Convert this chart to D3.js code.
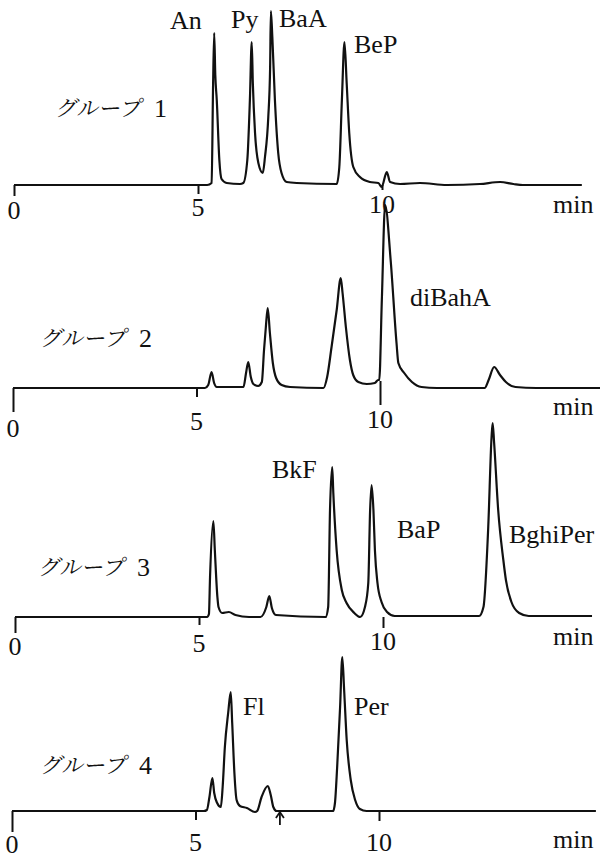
<!DOCTYPE html>
<html>
<head>
<meta charset="utf-8">
<script src="https://cdn.jsdelivr.net/npm/d3@7/dist/d3.min.js"></script>
<style>
  svg text.latin { font-family: "Liberation Serif", serif !important; }
  svg text.kana { font-family: "Noto Serif CJK JP", serif !important; }
</style>
</head>
<body style="margin:0">
<svg id="chart" width="600" height="861"></svg>
<script>
// Retention time axis
const tickValues = [0, 5, 10];
const tickLabels = ["0", "5", "10"];
const timeUnit = "min";

// Group names
const groupNames = ["グループ", "グループ", "グループ", "グループ"];
const groupNumbers = ["1", "2", "3", "4"];

// Group 1 trace (time in min, detector signal)
const g1Time = [0, 5.25, 5.37, 5.41, 5.44, 5.47, 5.51, 5.58, 5.64, 5.78, 6.14, 6.23, 6.34, 6.41, 6.46, 6.49, 6.55, 6.64,
  6.76, 6.82, 6.91, 6.96, 6.98, 7.02, 7.09, 7.18, 7.27, 7.41, 7.68, 8.77, 8.84, 8.91, 8.98, 9.04, 9.11, 9.22, 9.40,
  9.67, 9.90, 9.99, 10.13, 10.22, 10.49, 11.03, 11.76, 12.66, 13.21, 13.57, 13.83, 15.43];
const g1Signal = [0, 0, 2, 100, 152, 110, 85, 25, 6, 2, 1, 2, 25, 85, 143, 102, 52, 22,
  12, 28, 68, 118, 174, 148, 85, 32, 12, 3, 2, 1, 18, 85, 143, 102, 52, 18, 8,
  3, 2, -2, 13, 3, 1, 2, 0, 1, 3, 1, 0, 0];

// Group 2 trace
const g2Time = [0, 5.23, 5.32, 5.41, 5.48, 5.55, 6.28, 6.35, 6.41, 6.48, 6.55, 6.68, 6.78, 6.84, 6.89, 6.94, 7.00,
  7.08, 7.17, 7.32, 7.55, 8.46, 8.56, 8.68, 8.82, 8.93, 8.98, 9.07, 9.18, 9.27, 9.41, 9.64, 9.86, 9.95, 9.98,
  10.05, 10.14, 10.29, 10.45, 10.50, 10.66, 10.87, 11.13, 11.55, 12.85, 12.96, 13.11, 13.27, 13.43, 13.69, 14.26, 16.0];
const g2Signal = [0, 0, 3, 16, 5, 1, 1, 15, 26, 11, 4, 2, 6, 38, 61, 80, 55,
  25, 10, 3, 1, 0, 11, 41, 78, 110, 95, 61, 28, 13, 6, 4, 5, 8, 8,
  88, 183, 128, 45, 25, 15, 6, 1, 0, 0, 8, 21, 13, 6, 1, 0, 0];

// Group 3 trace
const g3Time = [0, 5.22, 5.27, 5.30, 5.39, 5.43, 5.50, 5.53, 5.63, 5.81, 5.99, 6.36, 6.67, 6.83, 6.91, 6.98, 7.09,
  8.44, 8.51, 8.56, 8.62, 8.65, 8.74, 8.88, 9.01, 9.22, 9.38, 9.51, 9.60, 9.65, 9.69, 9.74, 9.78, 9.85, 9.96,
  10.11, 10.32, 12.61, 12.73, 12.86, 12.95, 12.98, 13.02, 13.13, 13.27, 13.34, 13.49, 13.70, 13.96, 15.68];
const g3Signal = [0, 0, 3, 40, 96, 67, 20, 10, 4, 5, 2, 0, 0, 10, 21, 9, 2,
  0, 10, 107, 150, 124, 67, 27, 14, 4, 0, 10, 34, 107, 132, 107, 67, 34, 15,
  5, 1, 1, 10, 90, 180, 194, 174, 107, 57, 37, 15, 4, 1, 1];

// Group 4 trace
const g4Time = [0, 5.23, 5.31, 5.38, 5.46, 5.51, 5.59, 5.69, 5.74, 5.80, 5.89, 5.96, 6.00, 6.06, 6.12, 6.21, 6.40,
  6.62, 6.68, 6.80, 6.97, 7.05, 7.12, 7.21, 8.75, 8.80, 8.86, 8.94, 9.00, 9.05, 9.12, 9.23, 9.35, 9.48, 9.66, 15.91];
const g4Signal = [0, 0, 1, 14, 33, 18, 8, 4, 24, 64, 98, 119, 88, 38, 11, 5, 3,
  -1, 0, 14, 25, 16, 4, 0, 0, 8, 44, 104, 154, 121, 71, 31, 11, 2, 0, 0];

// Peak labels per group
const g1Peaks = ["An", "Py", "BaA", "BeP"];
const g2Peaks = ["diBahA"];
const g3Peaks = ["BkF", "BaP", "BghiPer"];
const g4Peaks = ["Fl", "Per"];

// Injection marker (group 4)
const g4MarkerTime = 7.30;

// ---- layout ----
const SERIF = "Liberation Serif";
const JP = "Noto Serif CJK JP";

const panels = [
  { time: g1Time, signal: g1Signal, peaks: g1Peaks, base: 185, x0: 14, x10: 382,
    tickLen: [11, 9, 5], tickUp: [0, 0, 0], labelY: [219, 216, 213], minY: 213, nameX: 55, nameY: 116,
    peakPos: [[170, 29], [231, 28], [279, 27], [354, 53]] },
  { time: g2Time, signal: g2Signal, peaks: g2Peaks, base: 388, x0: 13, x10: 380,
    tickLen: [24, 9, 17], tickUp: [0, 0, 7], labelY: [437, 430, 428], minY: 415, nameX: 40, nameY: 346,
    peakPos: [[410, 306]] },
  { time: g3Time, signal: g3Signal, peaks: g3Peaks, base: 617, x0: 15, x10: 383,
    tickLen: [16, 8, 11], tickUp: [0, 0, 0], labelY: [655, 652, 650], minY: 645, nameX: 38, nameY: 575,
    peakPos: [[272, 478], [397, 538], [509, 543]] },
  { time: g4Time, signal: g4Signal, peaks: g4Peaks, base: 811, x0: 12, x10: 379,
    tickLen: [21, 9, 10], tickUp: [0, 0, 0], labelY: [853, 851, 851], minY: 848, nameX: 40, nameY: 773,
    peakPos: [[243, 715], [354, 715]] }
];

const svg = d3.select("#chart");
const fontSize = 26;

function latin(sel) {
  return sel.attr("class", "latin")
    .attr("font-size", fontSize)
    .attr("fill", "#111")
    .style("font-family", SERIF, "important");
}

panels.forEach((p, i) => {
  const x = d3.scaleLinear().domain([0, 10]).range([p.x0, p.x10]);
  const y = d3.scaleLinear().domain([0, 200]).range([p.base, p.base - 200]);

  // time axis ticks (the trace itself forms the baseline)
  const axis = d3.axisBottom(x).tickValues(tickValues).tickSize(10).tickFormat("");
  const ax = svg.append("g").attr("transform", `translate(0,${p.base})`).call(axis);
  ax.select(".domain").remove();
  ax.selectAll(".tick text").remove();
  ax.selectAll(".tick line")
    .attr("stroke", "#111").attr("stroke-width", 2)
    .attr("y1", (d, k) => -p.tickUp[k])
    .attr("y2", (d, k) => p.tickLen[k]);

  // tick labels
  svg.selectAll(null).data(tickValues).join("text")
    .call(latin)
    .attr("x", d => x(d))
    .attr("y", (d, k) => p.labelY[k])
    .attr("text-anchor", "middle")
    .text((d, k) => tickLabels[k]);

  svg.append("text")
    .call(latin)
    .attr("x", 553).attr("y", p.minY)
    .text(timeUnit);

  // chromatogram trace
  const pts = p.time.map((t, k) => [t, p.signal[k]]);
  const line = d3.line().x(d => x(d[0])).y(d => y(d[1])).curve(d3.curveMonotoneX);
  svg.append("path").datum(pts)
    .attr("d", line)
    .attr("fill", "none")
    .attr("stroke", "#111")
    .attr("stroke-width", 2.2)
    .attr("stroke-linejoin", "round");

  // group name (slanted kana + number)
  svg.append("text")
    .attr("class", "kana")
    .attr("transform", `translate(${p.nameX},${p.nameY}) skewX(-10)`)
    .attr("font-size", 22)
    .attr("fill", "#111")
    .style("font-family", JP, "important")
    .text(groupNames[i]);
  svg.append("text")
    .call(latin)
    .attr("x", p.nameX + 99).attr("y", p.nameY + 1)
    .text(groupNumbers[i]);

  // peak labels
  svg.selectAll(null).data(p.peaks).join("text")
    .call(latin)
    .attr("x", (d, k) => p.peakPos[k][0])
    .attr("y", (d, k) => p.peakPos[k][1])
    .text(d => d);

  // injection marker arrow under group 4
  if (i === 3) {
    const mx = x(g4MarkerTime);
    svg.append("line").attr("x1", mx).attr("x2", mx)
      .attr("y1", p.base + 2).attr("y2", p.base + 14)
      .attr("stroke", "#111").attr("stroke-width", 1.8);
    svg.append("path")
      .attr("d", `M${mx - 4},${p.base + 7} L${mx},${p.base + 1} L${mx + 4},${p.base + 7}`)
      .attr("fill", "none").attr("stroke", "#111").attr("stroke-width", 1.8);
  }
});
</script>
</body>
</html>
